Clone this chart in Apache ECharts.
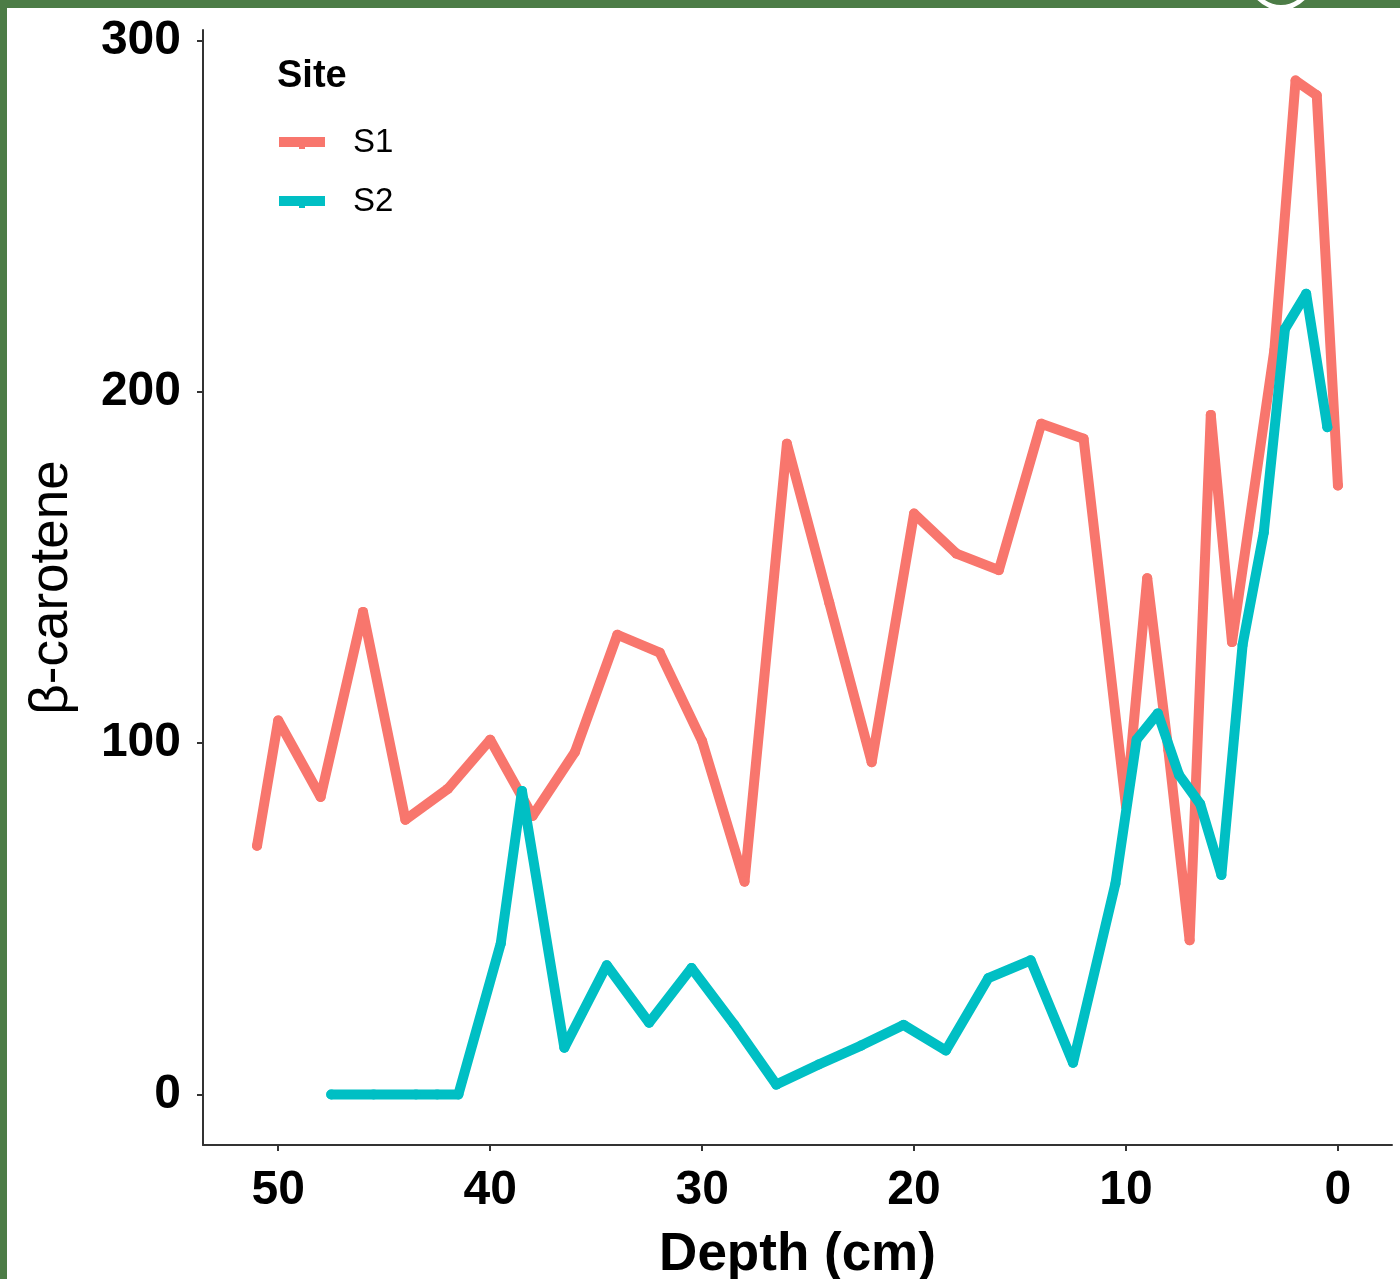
<!DOCTYPE html>
<html>
<head>
<meta charset="utf-8">
<script src="https://cdn.jsdelivr.net/npm/echarts@6/dist/echarts.min.js"></script>
<style>
  html, body { margin: 0; padding: 0; background: #4c7c46; }
  #chart { width: 1400px; height: 1279px; }
</style>
</head>
<body>
<div id="chart"></div>
<script>
// Sediment core profiles: β-carotene against depth for two sites
const s1Depth = [51, 50, 48, 46, 44, 42, 40, 38, 36, 34, 32, 30, 28, 26, 24, 22, 20, 18, 16, 14, 12, 10, 9, 8, 7, 6, 5, 3, 2, 1, 0];
const s1Value = [70.8, 106.5, 84.7, 137.4, 78.2, 87, 101, 79.3, 97.5, 130.9, 125.8, 100.6, 60.6, 185.3, 140, 94.6, 165.4, 154, 149.3, 191, 186.7, 82, 147, 98, 43.9, 193.5, 128.8, 212, 288.7, 284.5, 173.4];

const s2Depth = [47.5, 45.5, 43.5, 42.5, 41.5, 39.5, 38.5, 36.5, 34.5, 32.5, 30.5, 28.5, 26.5, 24.5, 22.5, 20.5, 18.5, 16.5, 14.5, 12.5, 10.5, 9.5, 8.5, 7.5, 6.5, 5.5, 4.5, 3.5, 2.5, 1.5, 0.5];
const s2Value = [0, 0, 0, 0, 0, 43, 86.4, 13.3, 36.8, 20.4, 36, 20, 2.8, 8.5, 13.9, 19.8, 12.5, 33.1, 38.2, 9, 60, 101, 108.5, 91, 82.7, 62.5, 128, 160, 218, 228, 190];

const depthTicks = [0, 10, 20, 30, 40, 50];
const valueTicks = [0, 100, 200, 300];
const siteNames = ['S1', 'S2'];
const siteColors = ['#F8766D', '#00BFC4'];

const pair = (xs, ys) => xs.map((x, i) => [x, ys[i]]);

const chart = echarts.init(document.getElementById('chart'), null, { renderer: 'canvas' });

const axisCommon = {
  type: 'value',
  splitLine: { show: false },
  axisLine: { show: true, onZero: false, lineStyle: { color: '#333333', width: 2 } },
  axisTick: { show: true, length: 6, lineStyle: { color: '#333333', width: 2 } },
  axisLabel: {
    color: '#000000',
    fontFamily: 'Liberation Sans, Arial, sans-serif',
    fontWeight: 'bold',
    fontSize: 48
  }
};

const lineSeries = (idx, xs, ys) => ({
  name: siteNames[idx],
  type: 'line',
  z: 2 + idx,
  data: pair(xs, ys),
  color: siteColors[idx],
  symbol: 'circle',
  symbolSize: 10,
  showSymbol: true,
  lineStyle: { width: 10, cap: 'round', join: 'round' },
  itemStyle: { color: siteColors[idx] }
});

chart.setOption({
  backgroundColor: 'transparent',
  animation: false,
  grid: { left: 203, right: 8, top: 30, bottom: 134, outerBoundsMode: 'none', containLabel: false },
  xAxis: Object.assign({}, axisCommon, {
    inverse: true,
    min: -2.55,
    max: 53.55,
    name: 'Depth (cm)',
    nameLocation: 'middle',
    nameGap: 84,
    nameTextStyle: {
      color: '#000000',
      fontFamily: 'Liberation Sans, Arial, sans-serif',
      fontWeight: 'bold',
      fontSize: 53
    },
    axisTick: Object.assign({}, axisCommon.axisTick, { customValues: depthTicks }),
    axisLabel: Object.assign({}, axisCommon.axisLabel, { customValues: depthTicks, margin: 22 })
  }),
  yAxis: Object.assign({}, axisCommon, {
    min: -14.4,
    max: 303.1,
    name: 'β-carotene',
    nameLocation: 'middle',
    nameGap: 124,
    nameRotate: 90,
    nameTextStyle: {
      color: '#000000',
      fontFamily: 'Liberation Sans, Arial, sans-serif',
      fontSize: 53
    },
    axisTick: Object.assign({}, axisCommon.axisTick, { customValues: valueTicks }),
    axisLabel: Object.assign({}, axisCommon.axisLabel, { customValues: valueTicks, margin: 22 })
  }),
  legend: {
    orient: 'vertical',
    left: 279,
    top: 125,
    padding: 0,
    itemWidth: 46,
    itemHeight: 12,
    itemGap: 23,
    icon: 'path://M0,0 H46 V10 H26 V12 H20 V10 H0 Z',
    data: siteNames,
    textStyle: {
      color: '#000000',
      fontFamily: 'Liberation Sans, Arial, sans-serif',
      fontSize: 33,
      lineHeight: 36,
      padding: [0, 0, 0, 23]
    }
  },
  graphic: [
    {
      type: 'rect',
      z: -10,
      shape: { x: 7, y: 8, width: 1393, height: 1271 },
      style: { fill: '#ffffff' }
    },
    {
      type: 'circle',
      z: -11,
      shape: { cx: 1281, cy: -23, r: 30.5 },
      style: { fill: 'none', stroke: '#ffffff', lineWidth: 5 }
    },
    {
      type: 'text',
      left: 277,
      top: 58,
      style: {
        text: 'Site',
        fill: '#000000',
        font: 'bold 38px "Liberation Sans", Arial, sans-serif'
      }
    }
  ],
  series: [
    lineSeries(0, s1Depth, s1Value),
    lineSeries(1, s2Depth, s2Value)
  ]
});
</script>
</body>
</html>
